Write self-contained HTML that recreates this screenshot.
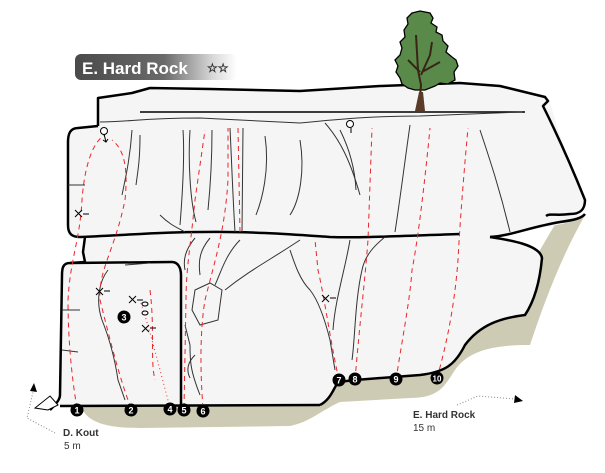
<!DOCTYPE html>
<html><head><meta charset="utf-8"><style>
html,body{margin:0;padding:0;background:#fff;}
svg{display:block;}
text{font-family:"Liberation Sans","DejaVu Sans",sans-serif;}
</style></head><body>
<svg width="605" height="473" viewBox="0 0 605 473" xmlns="http://www.w3.org/2000/svg">
<defs>
<linearGradient id="tg" x1="0" x2="1" y1="0" y2="0">
<stop offset="0" stop-color="#4a4a4a"/><stop offset="0.55" stop-color="#6a6a6a"/><stop offset="0.85" stop-color="#d8d8d8"/><stop offset="1" stop-color="#ffffff"/>
</linearGradient>
</defs>
<path d="M80,404 C85,420 100,428 140,428 L290,426 C310,422 322,410 340,402 L410,398 C440,398 445,385 455,370 C470,348 500,345 530,345 C545,300 560,260 585,215 L560,216 L540,250 L525,315 C500,318 480,325 465,345 C455,365 445,372 420,375 L338,382 L320,404 Z" fill="#cdcbb3"/>
<path d="M98,98 L132,93 L150,88 L210,89 L300,91 L380,86 L460,83 L500,86 L545,97 L550,102 C560,140 575,175 585,200 C585,212 575,214 555,214 L548,216 L585,214 C582,222 555,225 520,232 L490,237 C510,240 540,245 542,258 C540,280 535,300 525,315 C500,318 480,325 465,345 C455,365 445,372 420,375 L355,380 L335,383 L330,395 L320,405 L60,406 C60,380 60,320 62,268 C62,263 66,263 70,263 L85,262 L85,240 L72,237 C68,237 67,230 67,225 L67,140 C67,132 70,128 78,128 L98,126 Z" fill="#f5f5f5" stroke="none"/>
<g fill="none" stroke="#000" stroke-width="2.5" stroke-linejoin="round">
<path d="M98,126 L98,98 L132,93 L150,88 L210,89 L300,91 L380,86 L460,83 L500,86 L545,97 L548,101 L543,106 C560,140 575,175 585,200 C585,210 580,214 570,214 C556,216 550,213 546,216"/>
<path d="M98,126 L78,128 C70,128 68,134 68,142 L68,225 C68,234 72,237 80,237 C130,235 160,232 200,232 C250,231 300,235 330,237 C360,238 400,236 460,234"/>
<path d="M490,237 C510,236 530,227 560,222 C575,220 582,218 585,214"/>
<path d="M490,237 C510,240 540,245 542,258 C540,280 535,300 525,315 C500,318 480,325 465,345 C455,365 445,372 420,375 L355,380 L338,382 C333,390 330,400 320,405"/>
<path d="M85,237 L83,252 L85,262 L70,263 C63,263 62,268 62,275 L60,395 C60,400 55,405 50,410"/>
<path d="M70,263 L172,262 C178,262 181,268 181,275 L181,405"/>
<path d="M60,406 L320,405"/>
</g>
<path d="M140,112 L525,112" stroke="#000" stroke-width="1.5"/>
<path d="M100,122 C130,122 140,118 200,118 L300,123 C350,118 380,116 420,116 L522,112" stroke="#333" stroke-width="1" fill="none"/>
<g fill="none" stroke="#333" stroke-width="1">
<path d="M132,130 C130,160 125,180 122,195"/><path d="M140,135 C140,160 138,170 136,185"/>
<path d="M183,130 C185,160 182,200 180,225"/><path d="M190,130 C188,160 190,200 196,222"/>
<path d="M212,130 C212,160 210,190 208,210"/><path d="M230,128 C232,170 233,200 235,232"/>
<path d="M243,128 L242,232"/><path d="M265,136 C270,170 262,200 256,215"/>
<path d="M300,140 C305,170 300,200 290,215"/><path d="M160,215 C170,225 178,228 185,232"/>
<path d="M325,123 C340,140 350,160 360,195"/><path d="M410,125 C405,160 400,200 395,232"/>
<path d="M340,130 C350,150 355,170 356,190"/><path d="M480,130 C490,160 500,190 510,232"/>
<path d="M195,238 C185,250 183,260 185,270"/><path d="M210,238 C200,250 198,260 200,275"/>
<path d="M240,240 C225,255 220,275 215,285"/><path d="M300,240 C270,260 250,270 225,290"/>
<path d="M290,250 C295,265 300,280 310,290 C318,300 325,320 330,340 L335,370"/>
<path d="M350,240 C345,270 335,300 333,330"/>
<path d="M385,237 C375,245 365,255 362,270 C355,300 355,340 352,360"/>
<path d="M195,290 L210,283 L222,290 L218,320 L200,325 L192,310 Z"/>
<path d="M185,325 L190,345 C190,360 190,370 200,395"/>
<path d="M195,355 C190,360 185,368 190,378"/>
<path d="M108,270 C100,280 95,300 102,320 C110,340 115,360 118,380 L125,400"/>
<path d="M125,265 L150,263"/><path d="M62,310 L80,310"/><path d="M62,350 L78,352"/>
<path d="M68,185 L85,185"/>
</g>
<g fill="none" stroke="#e8262b" stroke-width="1" stroke-dasharray="5,4">
<path d="M77,408 C72,380 68,340 68,300 C70,260 80,240 82,200 C85,160 95,140 105,135"/>
<path d="M131,408 C120,380 110,340 100,300 C98,270 115,250 125,200 C128,170 125,150 112,140"/>
<path d="M184,408 L186,300 C186,270 190,250 195,200 L205,130"/>
<path d="M203,408 C200,370 200,330 205,300 C215,260 225,230 228,180 L228,128"/>
<path d="M238,128 L240,232"/>
<path d="M339,380 C330,340 325,300 318,270 L315,240"/>
<path d="M355,380 C360,320 365,280 368,240 L372,128"/>
<path d="M396,380 C402,340 410,300 412,270 C418,240 425,180 430,128"/>
<path d="M437,378 C448,340 455,300 458,260 C460,220 465,160 468,128"/>
<path d="M150,290 C155,330 150,360 155,380"/>
</g>
<path d="M170,408 C160,370 150,330 140,300" fill="none" stroke="#e8262b" stroke-width="1" stroke-dasharray="1,3"/>
<g stroke="#000" stroke-width="1" fill="none">
<path d="M75,210 L82,217 M82,210 L75,217 M83,214 L89,214"/>
<path d="M96,288 L103,295 M103,288 L96,295 M104,291 L110,291"/>
<path d="M129,296 L136,303 M136,296 L129,303 M137,300 L143,300"/>
<path d="M142,325 L149,332 M149,325 L142,332 M150,328 L156,328"/>
<path d="M322,295 L329,302 M329,295 L322,302 M330,298 L336,298"/>
<circle cx="104" cy="131" r="3.5" fill="#fff"/><path d="M104,134 L106,142 M103,140 L106,142 L108,139"/>
<circle cx="350" cy="124" r="3.5" fill="#fff"/><path d="M351,128 L351,133"/>
<ellipse cx="145" cy="304" rx="3" ry="2"/><ellipse cx="145" cy="313" rx="3" ry="2"/>
</g>
<path d="M48,410 L35,408 L50,396 L58,405 Z" fill="#fff" stroke="#000" stroke-width="1"/>
<g font-size="9" font-weight="bold" fill="#fff" text-anchor="middle">
<circle cx="77" cy="410" r="6.5" fill="#000"/><text x="77" y="413.5">1</text>
<circle cx="131" cy="410" r="6.5" fill="#000"/><text x="131" y="413.5">2</text>
<circle cx="124" cy="317" r="6.5" fill="#000"/><text x="124" y="320.5">3</text>
<circle cx="170" cy="409" r="6.5" fill="#000"/><text x="170" y="412.5">4</text>
<circle cx="184" cy="410" r="6.5" fill="#000"/><text x="184" y="413.5">5</text>
<circle cx="203" cy="411" r="6.5" fill="#000"/><text x="203" y="414.5">6</text>
<circle cx="339" cy="380" r="6.5" fill="#000"/><text x="339" y="383.5">7</text>
<circle cx="355" cy="379" r="6.5" fill="#000"/><text x="355" y="382.5">8</text>
<circle cx="396" cy="379" r="6.5" fill="#000"/><text x="396" y="382.5">9</text>
<circle cx="437" cy="378" r="6.5" fill="#000"/><text x="437" y="381.5" font-size="8">10</text>
</g>
<path d="M55,433 L27,418 L33,392" fill="none" stroke="#888" stroke-width="1" stroke-dasharray="1,2"/>
<path d="M30,391 L34,383 L37,392 Z" fill="#000"/>
<path d="M457,405 L478,396 L515,399" fill="none" stroke="#888" stroke-width="1" stroke-dasharray="1,2"/>
<path d="M515,395 L523,401 L514,403 Z" fill="#000"/>
<text x="63" y="436" font-size="10" font-weight="bold" fill="#333">D. Kout</text>
<text x="64" y="449" font-size="10" fill="#333">5 m</text>
<text x="413" y="418" font-size="10" font-weight="bold" fill="#333">E. Hard Rock</text>
<text x="413" y="431" font-size="10" fill="#333">15 m</text>
<rect x="75" y="54" width="162" height="26" rx="6" fill="url(#tg)"/>
<text x="82" y="74" font-size="17" font-weight="bold" fill="#fff">E. Hard Rock</text>
<text x="207" y="72" font-size="12" fill="#fff" stroke="#333" stroke-width="0.6">☆☆</text>
<path d="M412,13 L420,11 L430,13 L433,18 L431,23 L437,27 L436,32 L442,35 L443,41 L448,46 L446,52 L452,57 L456,60 L458,66 L454,72 L455,80 L448,84 L440,83 L435,86 L425,90 L415,90 L408,88 L402,84 L400,78 L396,72 L398,66 L395,60 L400,55 L402,48 L400,42 L405,37 L404,30 L408,24 L407,18 Z" fill="#5a8a4a" stroke="#000" stroke-width="1.3"/>
<path d="M419,110 L421,85 L418,70 L416,35 M421,75 L430,55 L432,42 M420,72 L408,60 M422,72 L440,62" fill="none" stroke="#3a2418" stroke-width="2"/>
<path d="M415,111 L419,92 L423,92 L425,111 Z" fill="#5a3a28"/>
</svg>
</body></html>
